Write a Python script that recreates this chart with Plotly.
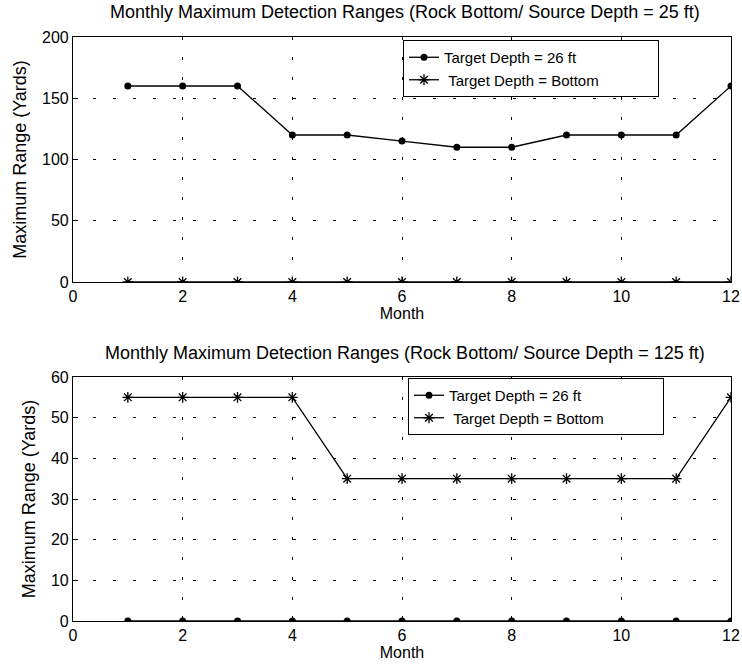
import plotly.graph_objects as go

months = [1, 2, 3, 4, 5, 6, 7, 8, 9, 10, 11, 12]

# Source depth 25 ft
top_target_26 = [160, 160, 160, 120, 120, 115, 110, 110, 120, 120, 120, 160]
top_target_bottom = [0, 0, 0, 0, 0, 0, 0, 0, 0, 0, 0, 0]

# Source depth 125 ft
bot_target_26 = [0, 0, 0, 0, 0, 0, 0, 0, 0, 0, 0, 0]
bot_target_bottom = [55, 55, 55, 55, 35, 35, 35, 35, 35, 35, 35, 55]

top_title = "Monthly Maximum Detection Ranges (Rock Bottom/ Source Depth = 25 ft)"
bot_title = "Monthly Maximum Detection Ranges (Rock Bottom/ Source Depth = 125 ft)"
PAD = "\u00a0" * 13
name_26 = "Target Depth = 26 ft"
name_bottom = "\u00a0Target Depth = Bottom" + PAD

FONT = "Liberation Sans, Arial, sans-serif"
BLACK = "#000000"

fig = go.Figure()

def add_series(x, y, name, symbol, xa, ya, legend):
    if symbol == "circle":
        marker = dict(symbol="circle", size=7, color=BLACK)
    else:
        marker = dict(symbol="asterisk-open", size=9, color=BLACK,
                      line=dict(color=BLACK, width=1.3))
    fig.add_trace(go.Scatter(
        x=x, y=y, name=name, mode="lines+markers",
        line=dict(color=BLACK, width=1.3), marker=marker,
        xaxis=xa, yaxis=ya, legend=legend,
    ))

add_series(months, top_target_26, name_26, "circle", "x", "y", "legend")
add_series(months, top_target_bottom, name_bottom, "star", "x", "y", "legend")
add_series(months, bot_target_26, name_26, "circle", "x2", "y2", "legend2")
add_series(months, bot_target_bottom, name_bottom, "star", "x2", "y2", "legend2")

axis_common = dict(
    showline=True, linecolor=BLACK, linewidth=1.2, mirror=True,
    showgrid=True, gridcolor=BLACK, gridwidth=1, griddash="3px,17px",
    zeroline=False, ticks="inside", ticklen=5, tickcolor=BLACK,
    tickfont=dict(family=FONT, size=16, color=BLACK),
    automargin=False,
)

x_dom = [73 / 742, 731 / 742]
xtitle = dict(text="Month", standoff=2, font=dict(family=FONT, size=16, color=BLACK))
ytitle = dict(text="Maximum Range (Yards)", standoff=10,
              font=dict(family=FONT, size=18, color=BLACK))

legend_style = dict(xanchor="left", yanchor="top",
                    bgcolor="white", bordercolor=BLACK, borderwidth=1,
                    font=dict(family=FONT, size=15, color=BLACK),
                    tracegroupgap=0, itemwidth=30)

fig.update_layout(
    width=742, height=664,
    margin=dict(l=0, r=0, t=0, b=0),
    paper_bgcolor="white", plot_bgcolor="white",
    font=dict(family=FONT, size=14, color=BLACK),
    xaxis=dict(axis_common, domain=x_dom, range=[0, 12], dtick=2, anchor="y",
               title=xtitle),
    yaxis=dict(axis_common, domain=[1 - 282 / 664, 1 - 37 / 664], range=[0, 200],
               dtick=50, anchor="x", title=ytitle),
    xaxis2=dict(axis_common, domain=x_dom, range=[0, 12], dtick=2, anchor="y2",
                title=xtitle),
    yaxis2=dict(axis_common, domain=[1 - 621 / 664, 1 - 377 / 664], range=[0, 60],
                dtick=10, anchor="x2", title=ytitle),
    legend=dict(legend_style, x=403 / 742, y=1 - 40 / 664),
    legend2=dict(legend_style, x=408 / 742, y=1 - 378 / 664),
    showlegend=True,
    annotations=[
        dict(text=top_title, x=405 / 742, y=1 - 12 / 664, xref="paper", yref="paper",
             showarrow=False, xanchor="center", yanchor="middle",
             font=dict(family=FONT, size=18, color=BLACK)),
        dict(text=bot_title, x=405 / 742, y=1 - 353 / 664, xref="paper", yref="paper",
             showarrow=False, xanchor="center", yanchor="middle",
             font=dict(family=FONT, size=18, color=BLACK)),
    ],
)

fig.write_html("out.html")
